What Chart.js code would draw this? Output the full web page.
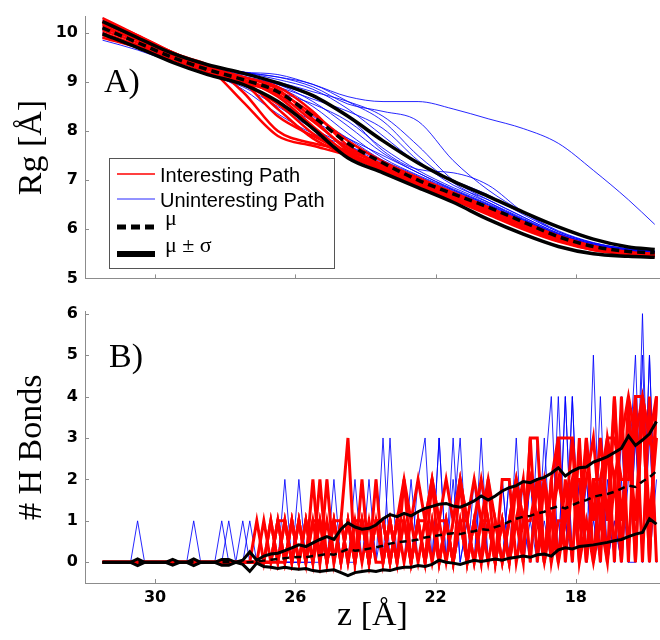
<!DOCTYPE html>
<html>
<head>
<meta charset="utf-8">
<script src="https://cdn.jsdelivr.net/npm/chart.js@4.4.0/dist/chart.umd.min.js"></script>
<style>
  html, body { margin: 0; padding: 0; background: #fff; }
  #wrap { position: relative; width: 660px; height: 640px; }
  canvas { position: absolute; left: 0; }
  #cTop { top: 0; }
  #cBot { top: 295px; }
</style>
</head>
<body>
<div id="wrap">
  <canvas id="cTop" width="660" height="295"></canvas>
  <canvas id="cBot" width="660" height="345"></canvas>
</div>
<script>
// ============================================================
// Data: panel A (Rg vs z) and panel B (# H bonds vs z)
// ============================================================
const xTicks = [30, 26, 22, 18];
const rgTicks = [5, 6, 7, 8, 9, 10];
const hbTicks = [0, 1, 2, 3, 4, 5, 6];
const legendLabels = ['Interesting Path', 'Uninteresting Path', 'μ', 'μ ± σ'];

// z positions for the smooth Rg paths
const zTop = [31.5, 30.5, 29.5, 28.5, 27.5, 26.5, 25.5, 24.5, 23.5, 22.5, 21.5, 20.5, 19.5, 18.5, 17.5, 16.5, 15.75];

const rgRed1  = [10.3, 9.95, 9.6, 9.3, 9.1, 8.85, 8.25, 7.6, 7.25, 6.95, 6.65, 6.35, 6.05, 5.8, 5.6, 5.5, 5.47];
const rgRed2  = [10.2, 9.9, 9.55, 9.35, 8.8, 8.0, 7.75, 7.6, 7.3, 6.95, 6.65, 6.35, 6.05, 5.78, 5.6, 5.5, 5.46];
const rgRed3  = [10.25, 9.95, 9.6, 9.3, 8.6, 7.9, 7.7, 7.5, 7.2, 6.9, 6.6, 6.3, 6.0, 5.75, 5.58, 5.5, 5.45];
const rgRed4  = [10.1, 9.85, 9.55, 9.3, 9.0, 8.3, 7.9, 7.55, 7.25, 6.95, 6.65, 6.35, 6.05, 5.8, 5.6, 5.5, 5.47];
const rgRed5  = [10.0, 9.75, 9.5, 9.25, 9.05, 8.7, 8.1, 7.55, 7.3, 7.0, 6.7, 6.4, 6.1, 5.82, 5.62, 5.52, 5.48];
const rgRed6  = [9.9, 9.7, 9.45, 9.2, 8.95, 8.55, 7.95, 7.5, 7.22, 6.92, 6.62, 6.32, 6.02, 5.78, 5.6, 5.5, 5.46];
const rgRed7  = [10.15, 9.85, 9.55, 9.3, 9.1, 8.9, 8.4, 7.7, 7.3, 7.0, 6.7, 6.4, 6.1, 5.83, 5.62, 5.52, 5.48];
const rgRed8  = [10.05, 9.8, 9.5, 9.25, 9.0, 8.75, 8.2, 7.65, 7.32, 7.02, 6.72, 6.42, 6.12, 5.85, 5.64, 5.53, 5.49];
const rgRed9  = [10.2, 9.9, 9.6, 9.3, 9.05, 8.45, 7.85, 7.5, 7.2, 6.92, 6.62, 6.32, 6.02, 5.77, 5.58, 5.49, 5.45];
const rgRed10 = [9.95, 9.75, 9.5, 9.28, 9.05, 8.8, 8.35, 7.8, 7.38, 7.05, 6.75, 6.45, 6.15, 5.87, 5.66, 5.54, 5.5];

const rgBlue1  = [10.0, 9.75, 9.5, 9.3, 9.2, 9.15, 8.95, 8.7, 8.6, 8.6, 8.45, 8.25, 8.05, 7.75, 7.2, 6.6, 6.1];
const rgBlue2  = [10.2, 9.9, 9.6, 9.35, 9.2, 9.1, 8.95, 8.6, 8.2, 7.5, 6.95, 6.55, 6.2, 5.9, 5.7, 5.58, 5.55];
const rgBlue3  = [10.1, 9.85, 9.55, 9.3, 9.15, 9.0, 8.8, 8.6, 8.3, 7.7, 7.0, 6.6, 6.25, 5.92, 5.7, 5.58, 5.54];
const rgBlue4  = [9.9, 9.7, 9.45, 9.25, 9.1, 8.95, 8.7, 8.3, 7.6, 7.22, 7.15, 6.9, 6.35, 5.95, 5.72, 5.6, 5.55];
const rgBlue5  = [10.05, 9.8, 9.5, 9.3, 9.1, 8.9, 8.5, 7.95, 7.45, 7.1, 6.8, 6.5, 6.18, 5.88, 5.67, 5.56, 5.52];
const rgBlue6  = [10.15, 9.85, 9.55, 9.3, 9.05, 8.7, 8.3, 7.85, 7.4, 7.05, 6.75, 6.45, 6.15, 5.87, 5.66, 5.55, 5.51];
const rgBlue7  = [9.85, 9.65, 9.4, 9.15, 8.9, 8.5, 8.05, 7.7, 7.35, 7.02, 6.72, 6.42, 6.12, 5.85, 5.65, 5.54, 5.5];
const rgBlue8  = [10.25, 9.95, 9.6, 9.35, 9.2, 9.05, 8.85, 8.45, 7.9, 7.35, 7.0, 6.7, 6.3, 5.95, 5.72, 5.6, 5.55];
const rgBlue9  = [10.0, 9.75, 9.5, 9.25, 9.05, 8.8, 8.55, 8.2, 7.65, 7.2, 6.85, 6.55, 6.22, 5.9, 5.68, 5.57, 5.53];
const rgBlue10 = [9.95, 9.75, 9.45, 9.2, 8.95, 8.6, 8.2, 7.85, 7.5, 7.15, 6.8, 6.5, 6.18, 5.88, 5.67, 5.56, 5.52];
const rgBlue11 = [10.3, 9.95, 9.6, 9.35, 9.2, 9.1, 8.9, 8.55, 8.4, 8.2, 7.4, 6.8, 6.35, 5.97, 5.73, 5.6, 5.56];
const rgBlue12 = [10.1, 9.8, 9.5, 9.28, 9.1, 8.9, 8.65, 8.4, 8.05, 7.4, 6.9, 6.6, 6.25, 5.92, 5.7, 5.58, 5.54];
const rgBlue13 = [9.9, 9.7, 9.45, 9.2, 8.85, 8.35, 7.95, 7.7, 7.4, 7.08, 6.78, 6.48, 6.16, 5.87, 5.66, 5.55, 5.51];
const rgBlue14 = [10.2, 9.9, 9.58, 9.32, 9.12, 8.95, 8.6, 8.1, 7.55, 7.15, 6.82, 6.52, 6.2, 5.9, 5.68, 5.57, 5.53];

const rgMu = [10.1, 9.8, 9.5, 9.25, 9.05, 8.8, 8.3, 7.75, 7.35, 7.0, 6.72, 6.45, 6.15, 5.85, 5.65, 5.55, 5.52];
const rgUp = [10.23, 9.9, 9.58, 9.35, 9.18, 8.98, 8.72, 8.3, 7.8, 7.35, 6.98, 6.67, 6.35, 6.05, 5.8, 5.64, 5.59];
const rgLo = [9.98, 9.7, 9.4, 9.15, 8.95, 8.6, 8.05, 7.45, 7.15, 6.85, 6.55, 6.2, 5.9, 5.65, 5.5, 5.45, 5.43];

// z positions for the H-bond counts
const zBot = [
  31.5, 31.3, 31.1, 30.9, 30.7, 30.5, 30.3, 30.1, 29.9, 29.7,
  29.5, 29.3, 29.1, 28.9, 28.7, 28.5, 28.3, 28.1, 27.9, 27.7,
  27.5, 27.3, 27.1, 26.9, 26.7, 26.5, 26.3, 26.1, 25.9, 25.7,
  25.5, 25.3, 25.1, 24.9, 24.7, 24.5, 24.3, 24.1, 23.9, 23.7,
  23.5, 23.3, 23.1, 22.9, 22.7, 22.5, 22.3, 22.1, 21.9, 21.7,
  21.5, 21.3, 21.1, 20.9, 20.7, 20.5, 20.3, 20.1, 19.9, 19.7,
  19.5, 19.3, 19.1, 18.9, 18.7, 18.5, 18.3, 18.1, 17.9, 17.7,
  17.5, 17.3, 17.1, 16.9, 16.7, 16.5, 16.3, 16.1, 15.9, 15.7
];

const hbRed1 = [
  0,0,0,0,0,0,0,0,0,0, 0,0,0,0,0,0,0,0,0,0,
  0,0,1,0,1,0,1,0,1,0, 1,0,2,0,1,3,0,1,0,2,
  0,1,0,2,0,1,0,2,0,1, 0,2,0,1,0,2,0,1,0,2,
  0,3,0,2,0,3,0,2,0,3, 0,2,0,4,0,4,0,4,0,4
];
const hbRed2 = [
  0,0,0,0,0,0,0,0,0,0, 0,0,0,0,0,0,0,0,0,0,
  0,0,0,1,0,1,0,1,0,1, 0,1,0,1,0,1,0,2,0,1,
  1,0,1,2,1,0,1,2,1,0, 1,2,1,0,1,2,1,0,1,2,
  1,2,1,2,1,0,1,2,1,3, 1,3,1,4,1,3,1,4,1,3
];
const hbRed3 = [
  0,0,0,0,0,0,0,0,0,0, 0,0,0,0,0,0,0,0,0,0,
  0,0,0,0,1,0,1,0,1,0, 2,0,1,0,1,0,1,0,1,0,
  0,1,0,1,0,1,0,1,0,1, 0,1,0,1,2,1,0,1,0,1,
  2,0,2,0,2,0,2,0,3,0, 2,0,3,0,4,0,4,0,4,0
];
const hbRed4 = [
  0,0,0,0,0,0,0,0,0,0, 0,0,0,0,0,0,0,0,0,0,
  0,0,0,0,0,1,0,1,0,1, 0,2,0,1,0,1,0,1,0,1,
  1,0,1,0,1,2,1,2,1,2, 1,2,1,2,1,0,1,0,1,2,
  1,2,1,0,1,2,1,3,1,2, 3,1,3,2,3,4,3,4,3,4
];
const hbRed5 = [
  0,0,0,0,0,0,0,0,0,0, 0,0,0,0,0,0,0,0,0,0,
  0,0,0,0,0,1,1,0,1,0, 1,1,0,1,1,0,1,1,0,1,
  1,0,1,1,0,1,1,0,1,1, 0,1,1,0,1,1,0,2,2,0,
  1,1,2,2,0,1,1,2,2,0, 2,2,3,3,2,2,4,4,3,3
];
const hbRed6 = [
  0,0,0,0,0,0,0,0,0,0, 0,0,0,0,0,0,0,0,0,0,
  0,0,0,0,0,0,0,1,0,1, 0,1,0,1,0,1,0,1,0,1,
  0,1,0,1,0,1,0,1,0,1, 0,1,0,1,0,1,0,1,0,1,
  0,3,3,0,2,3,3,3,0,1, 0,1,0,2,0,3,0,4,0,4
];

const hbBlue1 = [
  0,0,0,0,0,1,0,0,0,0, 0,0,0,0,0,0,0,1,0,0,
  1,0,0,0,0,0,2,0,0,0, 1,0,1,0,1,0,2,0,1,0,
  3,0,1,0,1,0,1,0,1,0, 2,0,1,0,3,0,1,0,2,0,
  1,0,2,0,1,0,4,0,2,0, 5,0,3,0,2,0,3,0,5,0
];
const hbBlue2 = [
  0,0,0,0,0,0,0,0,0,0, 0,0,0,1,0,0,0,0,1,0,
  0,1,0,0,0,0,0,0,2,0, 0,1,0,1,0,1,0,1,0,1,
  0,3,0,1,0,2,3,0,3,0, 3,0,1,0,2,0,1,0,2,0,
  2,0,3,0,2,0,4,0,3,0, 2,0,3,0,4,0,0,6,0,2
];
const hbBlue3 = [
  0,0,0,0,0,0,0,0,0,0, 0,0,0,0,0,0,0,0,0,0,
  0,0,0,0,0,0,0,0,1,0, 1,0,2,0,1,0,1,0,2,0,
  1,0,1,0,2,0,1,0,3,0, 1,3,0,2,0,1,0,2,0,1,
  0,2,0,3,0,4,0,4,0,2, 0,4,0,1,0,2,5,0,5,0
];
const hbBlue4 = [
  0,0,0,0,0,0,0,0,0,0, 0,0,0,0,0,0,0,0,0,0,
  0,0,0,0,0,0,0,0,0,1, 0,1,0,2,0,1,0,1,0,2,
  0,1,0,2,0,1,0,2,0,1, 0,2,0,1,0,2,0,1,0,3,
  0,2,0,1,0,3,0,4,0,2, 0,3,0,1,0,4,0,5,0,4
];
const hbBlue5 = [
  0,0,0,0,0,0,0,0,0,0, 0,0,0,0,0,0,0,0,0,0,
  0,0,0,0,0,0,0,0,0,0, 0,0,1,0,1,0,0,1,0,1,
  0,1,0,1,0,1,0,1,0,1, 0,1,0,1,0,1,0,2,0,1,
  0,1,0,2,4,0,1,0,2,0, 1,0,2,0,3,0,3,0,3,0
];

const hbMu = [
  0,0,0,0,0,0,0,0,0,0, 0,0,0,0,0,0,0,0,0,0,
  0,0,0.02,0.04,0.06,0.08,0.1,0.12,0.13,0.12,
  0.15,0.17,0.2,0.18,0.25,0.32,0.28,0.3,0.33,0.36,
  0.4,0.45,0.48,0.5,0.52,0.55,0.6,0.62,0.65,0.68,
  0.7,0.68,0.72,0.75,0.8,0.78,0.85,0.9,0.98,1.05,
  1.1,1.12,1.18,1.22,1.3,1.35,1.3,1.38,1.45,1.5,
  1.58,1.62,1.65,1.7,1.78,1.85,1.82,1.95,2.05,2.2
];
const hbUp = [
  0,0,0,0,0,0.08,0,0,0,0, 0.07,0,0,0.08,0,0,0,0.07,0.07,0,
  0.05,0.25,0.05,0.15,0.2,0.22,0.28,0.35,0.42,0.38,
  0.47,0.55,0.62,0.55,0.8,0.95,0.85,0.8,0.82,0.9,
  1.05,1.15,1.1,1.18,1.12,1.22,1.3,1.35,1.4,1.42,
  1.36,1.33,1.4,1.48,1.6,1.5,1.6,1.72,1.8,1.85,
  1.95,1.92,2.0,2.05,2.15,2.28,2.08,2.2,2.28,2.3,
  2.42,2.48,2.55,2.65,2.75,3.05,2.82,2.95,3.1,3.4
];
const hbLo = [
  0,0,0,0,0,-0.08,0,0,0,0, -0.07,0,0,-0.08,0,0,0,-0.07,-0.07,0,
  -0.05,-0.22,-0.02,-0.1,-0.12,-0.15,-0.12,-0.15,-0.17,-0.15,
  -0.2,-0.22,-0.2,-0.18,-0.25,-0.32,-0.25,-0.22,-0.2,-0.22,
  -0.18,-0.2,-0.15,-0.12,-0.12,-0.08,-0.1,-0.05,0.05,0,
  -0.02,-0.05,0,0.05,0.02,0.05,0.08,0.05,0.1,0.12,
  0.15,0.12,0.18,0.2,0.15,0.3,0.35,0.32,0.38,0.4,
  0.42,0.45,0.48,0.52,0.55,0.62,0.68,0.72,1.05,0.92
];

const rgRedPaths = [rgRed1, rgRed2, rgRed3, rgRed4, rgRed5, rgRed6, rgRed7, rgRed8, rgRed9, rgRed10];
const rgBluePaths = [rgBlue1, rgBlue2, rgBlue3, rgBlue4, rgBlue5, rgBlue6, rgBlue7, rgBlue8, rgBlue9, rgBlue10, rgBlue11, rgBlue12, rgBlue13, rgBlue14];
const hbRedPaths = [hbRed1, hbRed2, hbRed3, hbRed4, hbRed5, hbRed6];
const hbBluePaths = [hbBlue1, hbBlue2, hbBlue3, hbBlue4, hbBlue5];

// ============================================================
// Helpers
// ============================================================
const RED = '#ff0000';
const BLUE = 'rgba(0,0,255,0.85)';
const AXIS = '#8c8c8c';
const TICK_FONT = { family: 'DejaVu Sans', size: 16, weight: 'bold' };
const TITLE_FONT = { family: 'Liberation Serif', size: 34 };

function pts(zs, vs) {
  return vs.map((v, i) => ({ x: zs[i], y: v }));
}

function line(zs, vs, color, width, extra) {
  return Object.assign({
    data: pts(zs, vs),
    borderColor: color,
    borderWidth: width,
    pointRadius: 0,
    fill: false
  }, extra || {});
}

function drawLegend(ctx) {
  ctx.fillStyle = '#fff';
  ctx.fillRect(109, 158, 225, 110);
  ctx.strokeStyle = '#555';
  ctx.lineWidth = 1;
  ctx.setLineDash([]);
  ctx.strokeRect(109.5, 158.5, 225, 110);

  const rows = [
    { ly: 174, ty: 182, color: RED, width: 1.5, dash: [], font: '20px "Liberation Sans"', tx: 160 },
    { ly: 199, ty: 207, color: BLUE, width: 1, dash: [], font: '20px "Liberation Sans"', tx: 160 },
    { ly: 227, ty: 225, color: '#000', width: 5, dash: [9, 5], font: '22px "Liberation Serif"', tx: 165 },
    { ly: 254, ty: 252, color: '#000', width: 6, dash: [], font: '22px "Liberation Serif"', tx: 165 }
  ];
  rows.forEach((r, i) => {
    ctx.beginPath();
    ctx.strokeStyle = r.color;
    ctx.lineWidth = r.width;
    ctx.setLineDash(r.dash);
    ctx.moveTo(117, r.ly);
    ctx.lineTo(155, r.ly);
    ctx.stroke();
    ctx.setLineDash([]);
    ctx.fillStyle = '#000';
    ctx.font = r.font;
    ctx.textBaseline = 'alphabetic';
    ctx.textAlign = 'left';
    ctx.fillText(legendLabels[i], r.tx, r.ty);
  });
}

// Inward tick marks, panel letter, legend
const panelDecor = {
  id: 'panelDecor',
  afterDraw(chart, args, opts) {
    const ctx = chart.ctx;
    const area = chart.chartArea;
    const xs = chart.scales.x;
    const ys = chart.scales.y;
    ctx.save();
    ctx.strokeStyle = AXIS;
    ctx.lineWidth = 1;
    xTicks.forEach(t => {
      const px = Math.round(xs.getPixelForValue(t)) + 0.5;
      ctx.beginPath();
      ctx.moveTo(px, area.bottom);
      ctx.lineTo(px, area.bottom - 4);
      ctx.stroke();
    });
    opts.yTicks.forEach(t => {
      const py = Math.round(ys.getPixelForValue(t)) + 0.5;
      ctx.beginPath();
      ctx.moveTo(area.left, py);
      ctx.lineTo(area.left + 4, py);
      ctx.stroke();
    });
    ctx.fillStyle = '#000';
    ctx.font = '34px "Liberation Serif"';
    ctx.textBaseline = 'alphabetic';
    ctx.fillText(opts.label, opts.labelX, opts.labelY);
    if (opts.legend) drawLegend(ctx);
    ctx.restore();
  }
};

function baseOptions(cfg) {
  return {
    responsive: false,
    animation: false,
    events: [],
    layout: { padding: { top: cfg.padTop, right: 0, bottom: 0, left: 0 } },
    plugins: {
      legend: { display: false },
      tooltip: { enabled: false },
      panelDecor: cfg.decor
    },
    scales: {
      x: {
        type: 'linear',
        reverse: true,
        min: 15.6,
        max: 32,
        grid: { display: false, drawTicks: false },
        border: { display: true, color: AXIS, width: 1 },
        ticks: { display: cfg.xLabels, color: '#000', font: TICK_FONT, padding: 5, maxRotation: 0 },
        title: cfg.xTitle
          ? { display: true, text: cfg.xTitle, color: '#000', font: TITLE_FONT, padding: { top: 0, bottom: 4 } }
          : { display: false },
        afterBuildTicks: s => { s.ticks = xTicks.map(v => ({ value: v })); },
        afterFit: s => { s.height = cfg.xHeight; }
      },
      y: {
        type: 'linear',
        min: cfg.yMin,
        max: cfg.yMax,
        grid: { display: false, drawTicks: false },
        border: { display: true, color: AXIS, width: 1 },
        ticks: { color: '#000', font: TICK_FONT, padding: 7 },
        title: { display: true, text: cfg.yTitle, color: '#000', font: TITLE_FONT, padding: { top: 12, bottom: 0 } },
        afterBuildTicks: s => { s.ticks = cfg.yTicks.map(v => ({ value: v })); },
        afterFit: s => { s.width = 85; }
      }
    }
  };
}

// ============================================================
// Panel A
// ============================================================
const topSets = [];
rgBluePaths.forEach(p => topSets.push(line(zTop, p, BLUE, 1, { order: 2, cubicInterpolationMode: 'monotone' })));
rgRedPaths.forEach(p => topSets.push(line(zTop, p, RED, 2.5, { order: 1, cubicInterpolationMode: 'monotone' })));
topSets.push(line(zTop, rgUp, '#000', 3.5, { order: 0, cubicInterpolationMode: 'monotone' }));
topSets.push(line(zTop, rgLo, '#000', 3.5, { order: 0, cubicInterpolationMode: 'monotone' }));
topSets.push(line(zTop, rgMu, '#000', 3.5, { order: 0, cubicInterpolationMode: 'monotone', borderDash: [8, 5] }));

new Chart(document.getElementById('cTop'), {
  type: 'line',
  data: { datasets: topSets },
  options: baseOptions({
    padTop: 12, xHeight: 10, xLabels: false, xTitle: null,
    yMin: 5, yMax: 10.33, yTicks: rgTicks, yTitle: 'Rg [Å]',
    decor: { label: 'A)', labelX: 104, labelY: 92, legend: true, yTicks: rgTicks }
  }),
  plugins: [panelDecor]
});

// ============================================================
// Panel B
// ============================================================
const botSets = [];
hbBluePaths.forEach(p => botSets.push(line(zBot, p, BLUE, 1, { order: 2, tension: 0 })));
hbRedPaths.forEach(p => botSets.push(line(zBot, p, RED, 3, { order: 1, tension: 0 })));
botSets.push(line(zBot, hbUp, '#000', 3, { order: 0, tension: 0 }));
botSets.push(line(zBot, hbLo, '#000', 3, { order: 0, tension: 0 }));
botSets.push(line(zBot, hbMu, '#000', 2.5, { order: 0, tension: 0, borderDash: [7, 5] }));

new Chart(document.getElementById('cBot'), {
  type: 'line',
  data: { datasets: botSets },
  options: baseOptions({
    padTop: 14, xHeight: 57, xLabels: true, xTitle: 'z [Å]',
    yMin: -0.5, yMax: 6.05, yTicks: hbTicks, yTitle: '# H Bonds',
    decor: { label: 'B)', labelX: 109, labelY: 72, legend: false, yTicks: hbTicks }
  }),
  plugins: [panelDecor]
});
</script>
</body>
</html>
